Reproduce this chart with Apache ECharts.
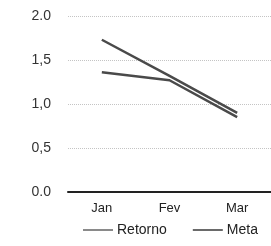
<!DOCTYPE html>
<html>
	<head>
		<meta charset="UTF-8">
		<title>Retorno x Meta</title>
		<script src="https://cdn.jsdelivr.net/npm/echarts@6/dist/echarts.min.js"></script>
		<style type="text/css">
			body {
				margin: 0;
				background: #fff;
			}
			#chart {
				width: 271px;
				height: 246px;
			}
		</style>
	</head>
	<body>
		<div id="chart"></div>
		<script type="text/javascript">
			// dados
			var meses = ['Jan', 'Fev', 'Mar'];
			var retorno = [1.73, 1.32, 0.90];
			var meta = [1.36, 1.27, 0.85];
			var rotulosY = {'0': '0.0', '0.5': '0,5', '1': '1,0', '1.5': '1,5', '2': '2.0'};

			var chart = echarts.init(document.getElementById('chart'));
			var option = {
				animation: false,
				textStyle: {
					fontFamily: 'Liberation Sans, Arial, sans-serif'
				},
				grid: {
					left: 68,
					top: 16,
					width: 210,
					height: 176
				},
				legend: {
					bottom: 4,
					left: 78,
					itemWidth: 30,
					itemHeight: 2,
					itemGap: 26,
					icon: 'rect',
					textStyle: {
						color: '#222',
						fontSize: 14,
						padding: [0, 0, 0, -1]
					},
					data: ['Retorno', 'Meta']
				},
				xAxis: {
					type: 'category',
					data: meses,
					axisLine: {
						lineStyle: {
							color: '#222',
							width: 2
						}
					},
					axisTick: {
						show: false
					},
					axisLabel: {
						color: '#222',
						fontSize: 13,
						margin: 10
					}
				},
				yAxis: {
					type: 'value',
					min: 0,
					max: 2,
					interval: 0.5,
					axisLabel: {
						color: '#333',
						fontSize: 14,
						margin: 17,
						formatter: function(v) {
							return rotulosY[String(v)];
						}
					},
					splitLine: {
						lineStyle: {
							color: '#c4c4c4',
							type: 'dotted',
							width: 1
						}
					}
				},
				series: [{
					name: 'Retorno',
					type: 'line',
					data: retorno,
					showSymbol: false,
					itemStyle: {
						color: '#8a8a8a'
					},
					lineStyle: {
						color: '#4a4a4a',
						width: 2.5
					}
				}, {
					name: 'Meta',
					type: 'line',
					data: meta,
					showSymbol: false,
					itemStyle: {
						color: '#6a6a6a'
					},
					lineStyle: {
						color: '#4a4a4a',
						width: 2.5
					}
				}]
			};
			chart.setOption(option);
		</script>
	</body>
</html>
